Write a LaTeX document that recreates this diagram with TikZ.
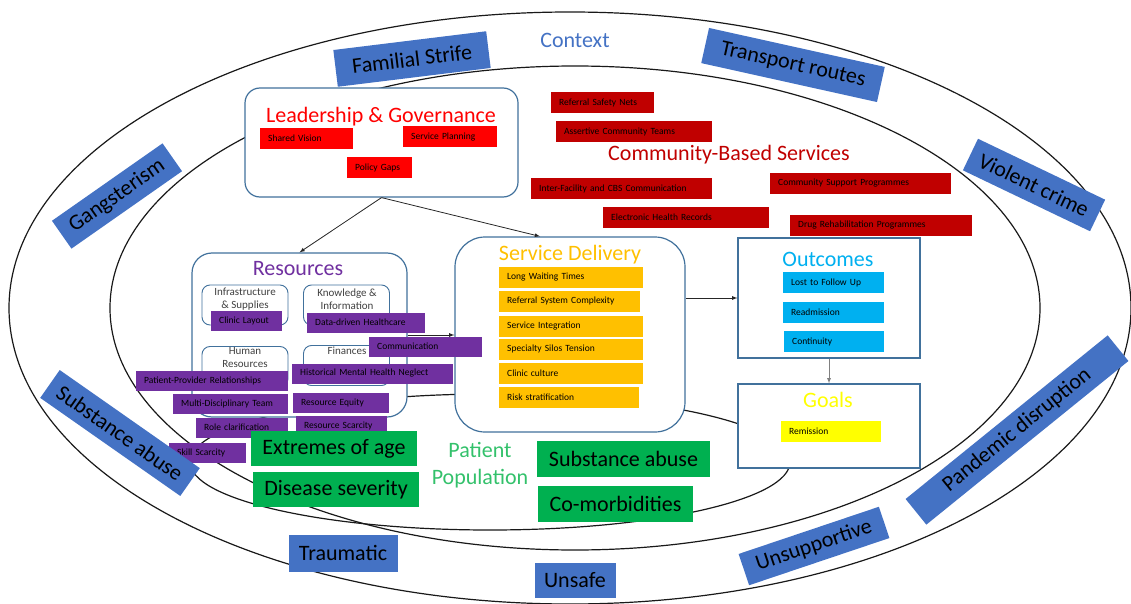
\documentclass[tikz,border=0pt]{standalone}
\usepackage{fontspec}
\setmainfont{Carlito}

\definecolor{ctxblue}{HTML}{4472C4}
\definecolor{edgeblue}{HTML}{41719C}
\definecolor{lgred}{HTML}{FF0000}
\definecolor{cbsred}{HTML}{C00000}
\definecolor{respurple}{HTML}{7030A0}
\definecolor{sdorange}{HTML}{FFC000}
\definecolor{outcyan}{HTML}{00B0F0}
\definecolor{goalyellow}{HTML}{FFFF00}
\definecolor{popgreen}{HTML}{00B050}
\definecolor{poptext}{HTML}{33C16B}
\definecolor{subgray}{HTML}{404040}

\tikzset{
  ring/.style={draw=black!90, line width=1.2pt},
  factor/.style={fill=ctxblue, text=black, font=\fontsize{22}{24}\selectfont, inner sep=0pt},
  panel/.style={draw=edgeblue, fill=white, line width=1.2pt, inner sep=0pt},
  subpanel/.style={draw=edgeblue, fill=white, line width=0.9pt, rounded corners=8pt,
    minimum width=86pt, minimum height=40pt, inner sep=0pt},
  subtext/.style={text=subgray, font=\fontsize{11}{13}\selectfont, align=center, inner sep=0pt},
  title/.style={font=\fontsize{22}{27}\selectfont, inner sep=0pt, align=center},
  chip/.style={anchor=west, minimum height=21pt, inner xsep=8pt, inner ysep=0pt,
    align=left, text=black, font=\fontsize{9.5}{11}\selectfont},
  popbox/.style={fill=popgreen, text=black, font=\fontsize{22}{24}\selectfont, inner sep=0pt},
  link/.style={draw=black!85, line width=0.8pt, -latex},
}

\begin{document}
\begin{tikzpicture}[x=1pt,y=-1pt]
  \useasboundingbox (0,0) rectangle (1131,604);

  % context, health system and patient population rings
  \draw[ring] (570,308) ellipse [x radius=561pt, y radius=296pt];
  \draw[ring] (575,308) ellipse [x radius=465pt, y radius=242pt];
  \draw[ring] (490,462) ellipse [x radius=300pt, y radius=68pt];

  \node[title, text=ctxblue] (ctx) at (575,40) {Context};

  % building blocks
  \node[panel, rounded corners=15pt, minimum width=273pt, minimum height=109pt] (lg) at (381.5,142.5) {};
  \node[panel, rounded corners=20pt, minimum width=215pt, minimum height=164pt] (res) at (299.5,335) {};
  \node[panel, rounded corners=30pt, minimum width=230pt, minimum height=195pt] (sd) at (570,334.5) {};
  \node[panel, minimum width=182pt, minimum height=120pt] (oc) at (829,298) {};
  \node[panel, minimum width=182pt, minimum height=84pt] (gl) at (829,426) {};

  \node[title, text=lgred] (lgt) at (381,116.5) {Leadership \& Governance};
  \node[title, text=respurple] (rest) at (298,269) {Resources};
  \node[title, text=sdorange] (sdt) at (570,255) {Service Delivery};
  \node[title, text=outcyan] (oct) at (828,259) {Outcomes};
  \node[title, text=goalyellow] (glt) at (828,400) {Goals};
  \node[title, text=cbsred] (cbst) at (729,155) {Community-Based Services};

  \draw[link] (lg.south) -- (res.north);
  \draw[link] (lg.south) -- (sd.107);
  \draw[link] (res.east) -- (sd.west |- res.east);
  \draw[link] (oc.west -| sd.east) -- (oc.west);
  \draw[link, draw=gray] (oc.south) -- (gl.north);

  % resource areas
  \node[subpanel] (isb) at (245,305) {};
  \node[subpanel] (kib) at (346.5,305) {};
  \node[subpanel] (hrb) at (245,366.5) {};
  \node[subpanel] (fib) at (346.5,365.5) {};
  \node[subtext] (isbt) at (245,299.5) {Infrastructure\\\& Supplies};
  \node[subtext] (kibt) at (347,299.5) {Knowledge \&\\Information};
  \node[subtext] (hrbt) at (245,358) {Human\\Resources};
  \node[subtext] (fibt) at (347,351) {Finances};

  \begin{scope}[every node/.style={chip, fill=lgred}]
    \node[text width=77pt] (sv) at (260,138.5) {Shared Vision};
    \node[text width=78pt] (sp) at (403,137) {Service Planning};
    \node[text width=49pt] (pg) at (347,167.5) {Policy Gaps};
  \end{scope}

  \begin{scope}[every node/.style={chip, fill=cbsred}]
    \node[text width=87pt]  (rsn) at (551,103)   {Referral Safety Nets};
    \node[text width=140pt] (act) at (556,131.5) {Assertive Community Teams};
    \node[text width=165pt] (ifc) at (531,188.5) {Inter-Facility and CBS Communication};
    \node[text width=165pt] (csp) at (770,183.5) {Community Support Programmes};
    \node[text width=150pt] (ehr) at (603,217)   {Electronic Health Records};
    \node[text width=166pt] (drp) at (790,225.5) {Drug Rehabilitation Programmes};
  \end{scope}

  \begin{scope}[every node/.style={chip, fill=respurple, minimum height=20pt}]
    \node[text width=55pt]  (cl)  at (211,321)   {Clinic Layout};
    \node[text width=102pt] (ddh) at (307,322.5) {Data-driven Healthcare};
    \node[text width=97pt]  (com) at (369,346.5) {Communication};
    \node[text width=145pt] (hmh) at (292,373.5) {Historical Mental Health Neglect};
    \node[text width=136pt] (ppr) at (136,381)   {Patient-Provider Relationships};
    \node[text width=99pt]  (mdt) at (173,404)   {Multi-Disciplinary Team};
    \node[text width=80pt]  (re)  at (293,402.5) {Resource Equity};
    \node[text width=76pt]  (rc)  at (196,427.5) {Role clarification};
    \node[text width=75pt]  (rs)  at (296,425.5) {Resource Scarcity};
    \node[text width=61pt]  (ss)  at (169,453)   {Skill Scarcity};
  \end{scope}

  \begin{scope}[every node/.style={chip, fill=sdorange}]
    \node[text width=128pt] (lwt) at (499,277.5) {Long Waiting Times};
    \node[text width=125pt] (rsc) at (499,301)   {Referral System Complexity};
    \node[text width=128pt] (si)  at (499,326)   {Service Integration};
    \node[text width=128pt] (sst) at (499,349)   {Specialty Silos Tension};
    \node[text width=128pt] (cc)  at (499,373)   {Clinic culture};
    \node[text width=124pt] (rst) at (499,397)   {Risk stratification};
  \end{scope}

  \begin{scope}[every node/.style={chip, fill=outcyan}]
    \node[text width=85pt] (ltf) at (783,282.5) {Lost to Follow Up};
    \node[text width=85pt] (rad) at (783,312)   {Readmission};
    \node[text width=84pt] (con) at (784,341.5) {Continuity};
  \end{scope}
  \node[chip, fill=goalyellow, text width=84pt] (rem) at (781,431.5) {Remission};

  % patient population
  \node[title, text=poptext] (popt) at (480,465) {Patient\\Population};
  \node[popbox, minimum width=166pt, minimum height=35pt] (eoa) at (334,448.5) {Extremes of age};
  \node[popbox, minimum width=166pt, minimum height=35pt] (dsv) at (336,489.5) {Disease severity};
  \node[popbox, minimum width=173pt, minimum height=36pt] (sbp) at (623.5,459) {Substance abuse};
  \node[popbox, minimum width=155pt, minimum height=36pt] (cmb) at (615.5,504) {Co-morbidities};

  % contextual factors
  \node[factor, rotate=7,     minimum width=154pt, minimum height=37pt] (fam) at (412,59)   {Familial Strife};
  \node[factor, rotate=-12.5, minimum width=180pt, minimum height=36pt] (trn) at (793,65)   {Transport routes};
  \node[factor, rotate=35,    minimum width=135pt, minimum height=34pt] (gng) at (117,196)  {Gangsterism};
  \node[factor, rotate=-35,   minimum width=171pt, minimum height=34pt] (sab) at (120,433)  {Substance abuse};
  \node[factor, rotate=-25.6, minimum width=141pt, minimum height=35pt] (vio) at (1034,185) {Violent crime};
  \node[factor, rotate=39,    minimum width=260pt, minimum height=33pt] (pan) at (1017,430) {Pandemic disruption};
  \node[factor, rotate=18.6,  minimum width=148pt, minimum height=33pt] (uns) at (814,546)  {Unsupportive};
  \node[factor, minimum width=81pt,  minimum height=35pt] (unf) at (575,580) {Unsafe};
  \node[factor, minimum width=109pt, minimum height=37pt] (trm) at (343,553) {Traumatic};

\end{tikzpicture}
\end{document}
